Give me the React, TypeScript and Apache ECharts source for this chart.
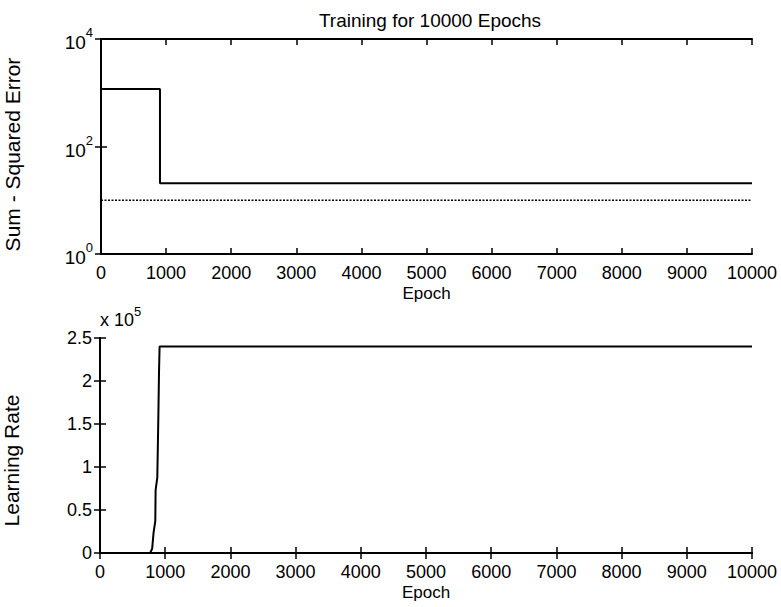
import React, { useEffect, useRef } from "react";
import * as echarts from "echarts";

const titleText = "Training for 10000 Epochs";

// Sum-squared error (log scale)
const sseEpochs = [0, 906, 906, 10000];
const sseValues = [1170, 1170, 20.7, 20.7];
// Error goal (dotted)
const goalEpochs = [0, 10000];
const goalValues = [10, 10];

// Learning rate
const lrEpochs = [0, 770, 800, 822, 848, 853, 879, 894, 905, 914, 10000];
const lrValues = [0, 0, 5000, 24000, 37000, 73000, 88000, 154000, 210000, 240000, 240000];

const FONT = "'Liberation Sans', Arial, Helvetica, sans-serif";

function pairs(xs: number[], ys: number[]) {
  return xs.map((x, i) => [x, ys[i]]);
}

export default function App() {
  const ref = useRef<HTMLDivElement>(null);
  useEffect(() => {
    if (!ref.current) return;
    const chart = echarts.init(ref.current, undefined, { renderer: "svg" });
    const axisLine = { show: true, lineStyle: { color: "#000", width: 2 } };
    const tick = { show: true, inside: true, length: 6, lineStyle: { color: "#000", width: 1.5 } };
    const tickLabel = { color: "#000", fontSize: 18, fontFamily: FONT };
    const xBase = (gridIndex: number, top: boolean) => ({
      type: "value" as const,
      gridIndex,
      min: 0,
      max: 10000,
      interval: 1000,
      position: top ? "top" : "bottom",
      axisLine,
      axisTick: tick,
      splitLine: { show: false },
      axisLabel: top
        ? { show: false }
        : { ...tickLabel, margin: 10, formatter: (v: number) => String(v) },
      name: top ? "" : "Epoch",
      nameLocation: "middle" as const,
      nameGap: 31,
      nameTextStyle: { color: "#000", fontSize: 17, fontFamily: FONT },
    });
    const powLabel = (v: number) => {
      const e = Math.round(Math.log10(v));
      return "{b|10}{s|" + e + "}";
    };
    const logY = (right: boolean) => ({
      type: "log" as const,
      gridIndex: 0,
      logBase: 10,
      min: 1,
      max: 10000,
      interval: 2,
      position: right ? "right" : "left",
      axisLine,
      axisTick: tick,
      minorTick: { show: false },
      splitLine: { show: false },
      axisLabel: right
        ? { show: false }
        : {
            margin: 8,
            formatter: powLabel,
            rich: {
              b: { fontSize: 19, fontFamily: FONT, color: "#000", verticalAlign: "bottom", lineHeight: 26 },
              s: { fontSize: 13, fontFamily: FONT, color: "#000", verticalAlign: "top", lineHeight: 26 },
            },
          },
      name: right ? "" : "Sum - Squared Error",
      nameLocation: "middle" as const,
      nameGap: 78,
      nameTextStyle: { color: "#000", fontSize: 21, fontFamily: FONT, padding: [0, 16, 0, 0] },
    });
    const linY = (right: boolean) => ({
      type: "value" as const,
      gridIndex: 1,
      min: 0,
      max: 250000,
      interval: 50000,
      position: right ? "right" : "left",
      axisLine,
      axisTick: tick,
      splitLine: { show: false },
      axisLabel: right
        ? { show: false }
        : { ...tickLabel, margin: 8, formatter: (v: number) => String(v / 100000) },
      name: right ? "" : "Learning Rate",
      nameLocation: "middle" as const,
      nameGap: 78,
      nameTextStyle: { color: "#000", fontSize: 21, fontFamily: FONT, padding: [0, 30, 0, 0] },
    });

    chart.setOption({
      animation: false,
      backgroundColor: "#fff",
      title: {
        text: titleText,
        left: 425,
        top: 6,
        textAlign: "center",
        textStyle: { color: "#000", fontSize: 19, fontWeight: "normal", fontFamily: FONT },
      },
      grid: [
        { left: 101, top: 39, width: 651, height: 215, containLabel: false, outerBoundsMode: "none" },
        { left: 100, top: 338, width: 652, height: 215, containLabel: false, outerBoundsMode: "none" },
      ],
      xAxis: [xBase(0, false), xBase(0, true), xBase(1, false), xBase(1, true)],
      yAxis: [logY(false), logY(true), linY(false), linY(true)],
      graphic: [
        {
          type: "text",
          left: 100,
          top: 305,
          style: {
            text: "{b|x 10}{s|5}",
            rich: {
              b: { fontSize: 18, fontFamily: FONT, fill: "#000", verticalAlign: "bottom", lineHeight: 24 },
              s: { fontSize: 13, fontFamily: FONT, fill: "#000", verticalAlign: "top", lineHeight: 24 },
            },
          },
        },
      ],
      series: [
        {
          type: "line",
          xAxisIndex: 0,
          yAxisIndex: 0,
          data: pairs(sseEpochs, sseValues),
          showSymbol: false,
          lineStyle: { color: "#000", width: 2 },
        },
        {
          type: "line",
          xAxisIndex: 0,
          yAxisIndex: 0,
          data: pairs(goalEpochs, goalValues),
          showSymbol: false,
          lineStyle: { color: "#000", width: 1.5, type: [2, 1.5] },
        },
        {
          type: "line",
          xAxisIndex: 2,
          yAxisIndex: 2,
          data: pairs(lrEpochs, lrValues),
          showSymbol: false,
          lineStyle: { color: "#000", width: 2 },
        },
      ],
    });
    return () => chart.dispose();
  }, []);
  return (
    <div
      ref={ref}
      style={{ position: "fixed", left: 0, top: 0, width: 781, height: 607, background: "#fff" }}
    />
  );
}
